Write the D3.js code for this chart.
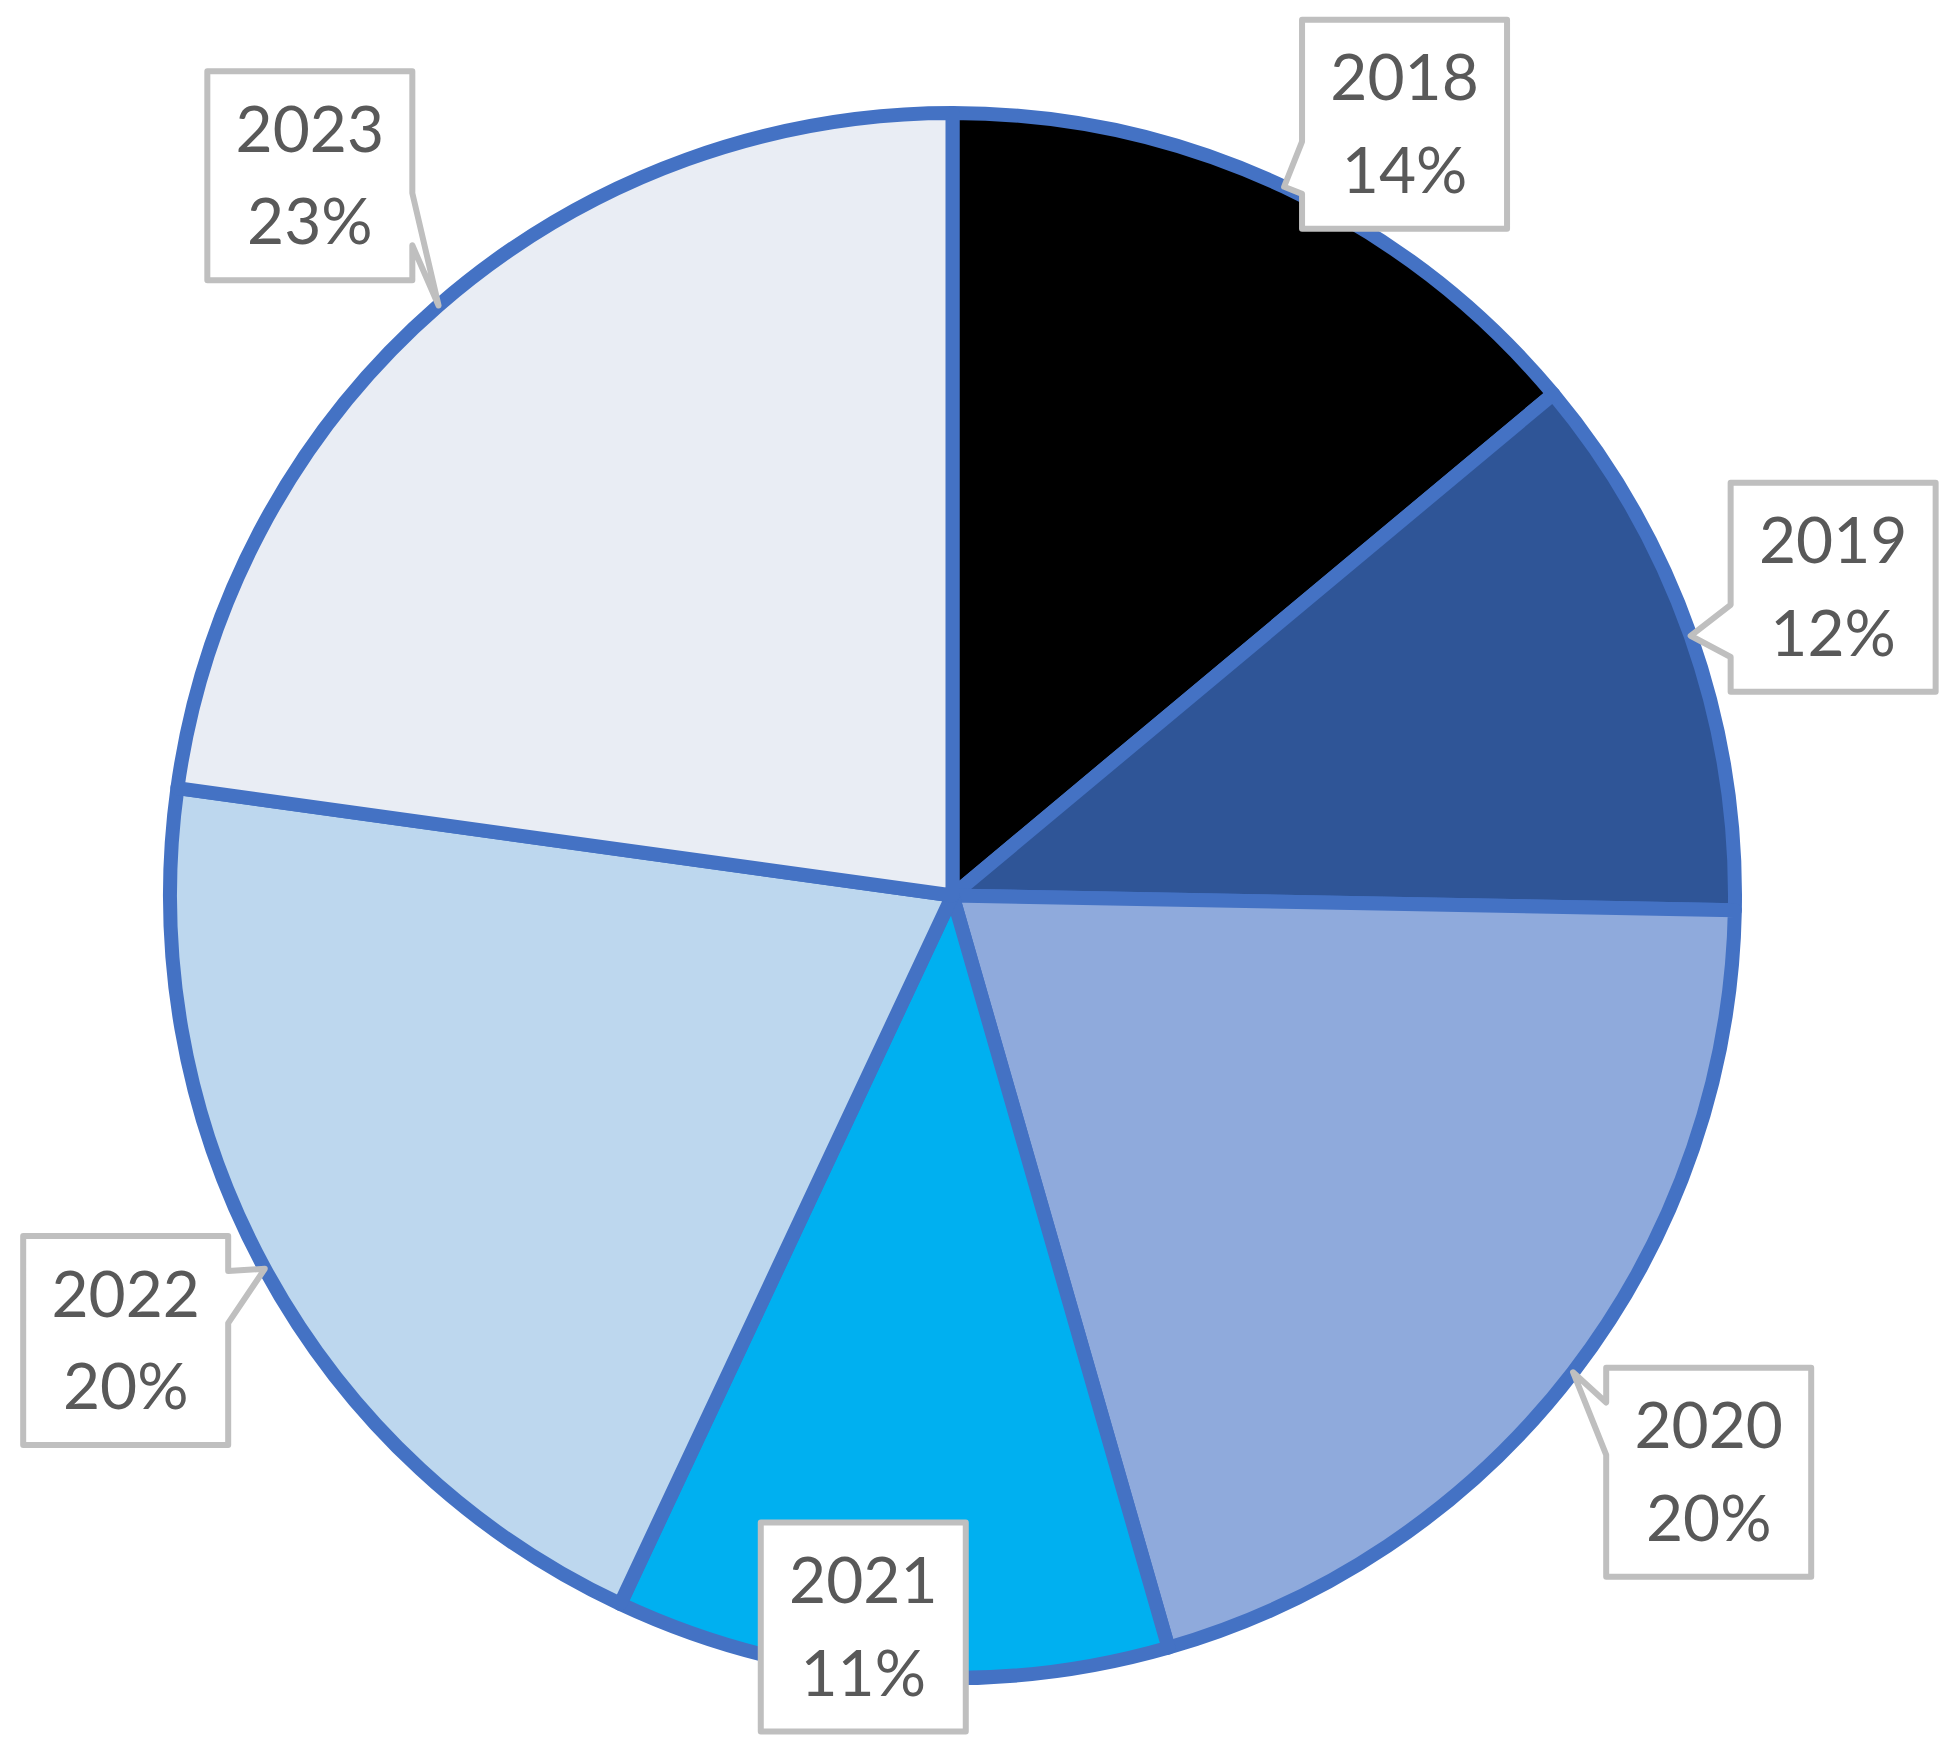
<!DOCTYPE html>
<html>
<head>
<meta charset="utf-8">
<script src="https://cdn.jsdelivr.net/npm/d3@7"></script>
<style>
  html, body { margin: 0; padding: 0; background: #ffffff; }
  svg { display: block; }
</style>
</head>
<body>
<svg id="chart" width="1958" height="1750"></svg>
<script>
// ---- data ----
const years = ["2018", "2019", "2020", "2021", "2022", "2023"];
const shares = [13.93, 11.37, 20.25, 11.43, 20.21, 22.81];
const pctLabels = ["14%", "12%", "20%", "11%", "20%", "23%"];
const sliceColors = ["#000000", "#2F5597", "#8FAADC", "#00B0F0", "#BDD7EE", "#E9EDF4"];

// ---- layout (callout placement, not data) ----
const labelDist = [894, 933, 951, 737, 939, 965];
const labelNudgeDeg = [5.3, 0.1, -0.2, 2.4, 0.2, -0.7];

const W = 1958, H = 1750;
const cx = 952.5, cy = 895.5, R = 782.5;
const boxW = 205, boxH = 209;

const svg = d3.select("#chart");
svg.append("rect").attr("width", W).attr("height", H).attr("fill", "#ffffff");

const pie = d3.pie().sort(null).value(d => d)(shares);
const arc = d3.arc().innerRadius(0).outerRadius(R);

const g = svg.append("g").attr("transform", `translate(${cx},${cy})`);
g.selectAll("path.slice")
  .data(pie)
  .join("path")
  .attr("class", "slice")
  .attr("d", arc)
  .attr("fill", (d, i) => sliceColors[i])
  .attr("stroke", "#4472C4")
  .attr("stroke-width", 14)
  .attr("stroke-linejoin", "round");

// wedgeRectCallout path (OOXML style)
function calloutPath(bx, by, w, h, tx, ty) {
  const l = bx - w / 2, r = bx + w / 2, t = by - h / 2, b = by + h / 2;
  const p = d3.path();
  if (tx >= l && tx <= r && ty >= t && ty <= b) {
    p.rect(l, t, w, h);
    return p.toString();
  }
  const dxPos = tx - bx, dyPos = ty - by;
  const dq = dxPos * h / w;
  const dz = Math.abs(dyPos) - Math.abs(dq);
  const xg1 = dxPos > 0 ? 7 : 2, xg2 = dxPos > 0 ? 10 : 5;
  const yg1 = dyPos > 0 ? 7 : 2, yg2 = dyPos > 0 ? 10 : 5;
  const x1 = l + w * xg1 / 12, x2 = l + w * xg2 / 12;
  const y1 = t + h * yg1 / 12, y2 = t + h * yg2 / 12;
  let xt = x1, yt = t, xb = x1, yb = b, xl = l, yl = y1, xr = r, yr = y1;
  if (dz > 0) {
    if (dyPos < 0) { xt = tx; yt = ty; } else { xb = tx; yb = ty; }
  } else {
    if (dxPos < 0) { xl = tx; yl = ty; } else { xr = tx; yr = ty; }
  }
  p.moveTo(l, t);
  p.lineTo(x1, t); p.lineTo(xt, yt); p.lineTo(x2, t);
  p.lineTo(r, t);
  p.lineTo(r, y1); p.lineTo(xr, yr); p.lineTo(r, y2);
  p.lineTo(r, b);
  p.lineTo(x2, b); p.lineTo(xb, yb); p.lineTo(x1, b);
  p.lineTo(l, b);
  p.lineTo(l, y2); p.lineTo(xl, yl); p.lineTo(l, y1);
  p.closePath();
  return p.toString();
}

const labels = svg.append("g");
pie.forEach((d, i) => {
  const mid = (d.startAngle + d.endAngle) / 2;
  const a = mid + labelNudgeDeg[i] * Math.PI / 180;
  const bx = cx + labelDist[i] * Math.sin(a);
  const by = cy - labelDist[i] * Math.cos(a);
  const tx = cx + R * Math.sin(mid);
  const ty = cy - R * Math.cos(mid);
  labels.append("path")
    .attr("d", calloutPath(bx, by, boxW, boxH, tx, ty))
    .attr("fill", "#ffffff")
    .attr("stroke", "#BFBFBF")
    .attr("stroke-width", 6)
    .attr("stroke-linejoin", "round");
  const txt = labels.append("text")
    .attr("text-anchor", "middle")
    .attr("font-family", "Lato, 'Open Sans', sans-serif")
    .attr("font-size", 64)
    .attr("fill", "#595959");
  txt.append("tspan").attr("x", bx).attr("y", by - 24).text(years[i]);
  txt.append("tspan").attr("x", bx).attr("y", by + 68.5).text(pctLabels[i]);
});
</script>
</body>
</html>
